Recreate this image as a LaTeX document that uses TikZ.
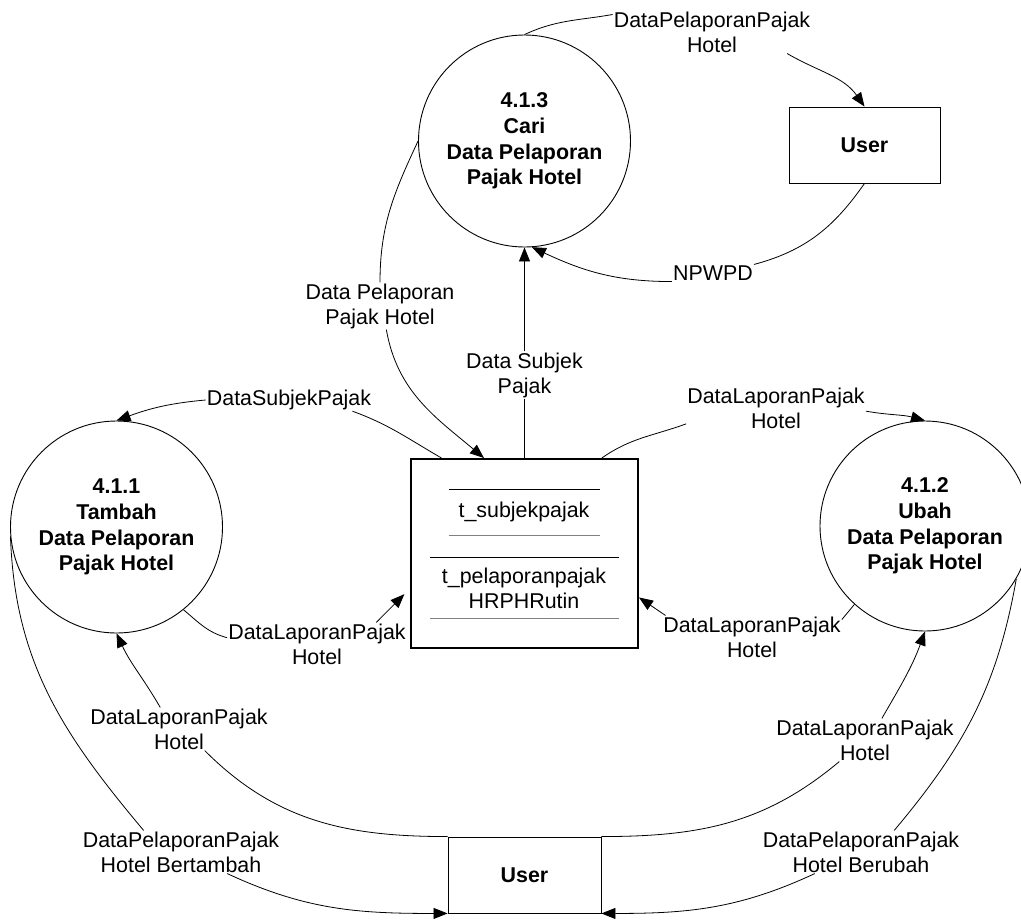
\documentclass[tikz,border=0pt]{standalone}
\usepackage{fontspec}
\setmainfont{Liberation Sans}
\usetikzlibrary{arrows.meta,calc}
\begin{document}
\begin{tikzpicture}[x=1pt,y=-1pt,
  every node/.style={font=\fontsize{21.4}{25}\selectfont},
  proc/.style={circle,draw,line width=0.9pt,minimum size=212pt,inner sep=0pt,align=center,font=\fontsize{21.4}{25.7}\selectfont\bfseries},
  ent/.style={rectangle,draw,line width=0.9pt,minimum width=152pt,minimum height=76pt,inner sep=0pt,font=\fontsize{21.4}{25}\selectfont\bfseries},
  lbl/.style={align=center,inner sep=1pt},
  flow/.style={line width=0.8pt},
  arr/.style={flow,-{Triangle[length=14pt,width=11pt]}}
]
\useasboundingbox (0,0) rectangle (1021,922);

% processes
\node[proc] (c413) at (524.5,141) {4.1.3\\Cari\\Data Pelaporan\\Pajak Hotel};
\node[proc] (c411) at (116.5,527) {4.1.1\\Tambah\\Data Pelaporan\\Pajak Hotel};
\node[proc,minimum size=210pt] (c412) at (925,526) {4.1.2\\Ubah\\Data Pelaporan\\Pajak Hotel};

% entities
\node[ent,minimum width=151pt] (u1) at (864.5,145) {User};
\node[ent,minimum width=153pt] (u2) at (524.5,875) {User};

% data store
\node[draw,line width=2pt,minimum width=227pt,minimum height=189pt,inner sep=0pt] (store) at (524.5,553.5) {};
\draw[line width=0.9pt] (449,489) -- (600,489);
\draw[line width=0.9pt,gray] (449,535) -- (600,535);
\draw[line width=0.9pt] (430,557) -- (619,557);
\draw[line width=0.9pt,gray] (430,618) -- (619,618);
\node (ts) at (524,512) {t\_subjekpajak};
\node[align=center] (tp) at (524,588) {t\_pelaporanpajak\\HRPHRutin};

% labels
\node[lbl] (lT) at (712,32) {DataPelaporanPajak\\Hotel};
\node[lbl] (lN) at (713,273) {NPWPD};
\node[lbl] (lDP) at (380,306) {Data Pelaporan\\Pajak Hotel};
\node[lbl] (lDS) at (524.5,375) {Data Subjek\\Pajak};
\node[lbl] (lSP) at (289,400) {DataSubjekPajak};
\node[lbl] (lTR) at (776,408) {DataLaporanPajak\\Hotel};
\node[lbl] (lML) at (317,644) {DataLaporanPajak\\Hotel};
\node[lbl] (lMR) at (752,637) {DataLaporanPajak\\Hotel};
\node[lbl] (lL1) at (179,729) {DataLaporanPajak\\Hotel};
\node[lbl] (lL2) at (181,852) {DataPelaporanPajak\\Hotel Bertambah};
\node[lbl] (lR1) at (865,740) {DataLaporanPajak\\Hotel};
\node[lbl] (lR2) at (861,852) {DataPelaporanPajak\\Hotel Berubah};

% 4.1.3 -> User (top)
\draw[flow] (c413.north) to[out=25,in=190] (lT.170);
\draw[arr] (lT.-16) to[out=-30,in=125] (u1.north);
% User (top) -> 4.1.3
\draw[flow] (u1.south) to[out=-125,in=15] (lN.north east);
\draw[arr] (lN.south west) to[out=180,in=-25] (c413.-86);
% store -> 4.1.3
\draw[flow] (store.north) -- (lDS.south);
\draw[arr] (lDS.north) -- (c413.south);
% 4.1.3 -> store
\draw[flow] (c413.180) to[out=-115,in=90] (lDP.north);
\draw[arr] (lDP.-75) to[out=-80,in=140] (store.113);
% store -> 4.1.1
\draw[flow] (store.131.5) to[out=150,in=-20] (lSP.-10);
\draw[arr] (lSP.west) to[out=185,in=20] (c411.north);
% store -> 4.1.2
\draw[flow] (store.51) to[out=35,in=200] (lTR.190);
\draw[arr] (lTR.-2) to[out=-10,in=165] (c412.north);
% 4.1.1 -> store
\draw[flow] (c411.-51) to[out=-40,in=165] (lML.176);
\draw[arr,shorten >=8pt] (lML.20) -- (store.197);
% 4.1.2 -> store
\draw[flow] (c412.228) -- (lMR.11);
\draw[arr] (lMR.166) -- (store.-21);
% User (bottom) -> 4.1.1
\draw[flow] (u2.north west) to[out=180,in=-45] (lL1.-40);
\draw[arr] (lL1.131) to[out=120,in=-65] (c411.south);
% 4.1.1 -> User (bottom)
\draw[flow] (c411.185) to[out=-88,in=130] (lL2.150);
\draw[arr] (lL2.-25) to[out=-25,in=180] (u2.south west);
% User (bottom) -> 4.1.2
\draw[flow] (u2.north east) to[out=0,in=220] (lR1.220);
\draw[arr] (lR1.52) to[out=60,in=-110] (c412.south);
% 4.1.2 -> User (bottom)
\draw[flow] (c412.-30) to[out=-100,in=50] (lR2.33);
\draw[arr] (lR2.205) to[out=-155,in=0] (u2.south east);
\end{tikzpicture}
\end{document}
